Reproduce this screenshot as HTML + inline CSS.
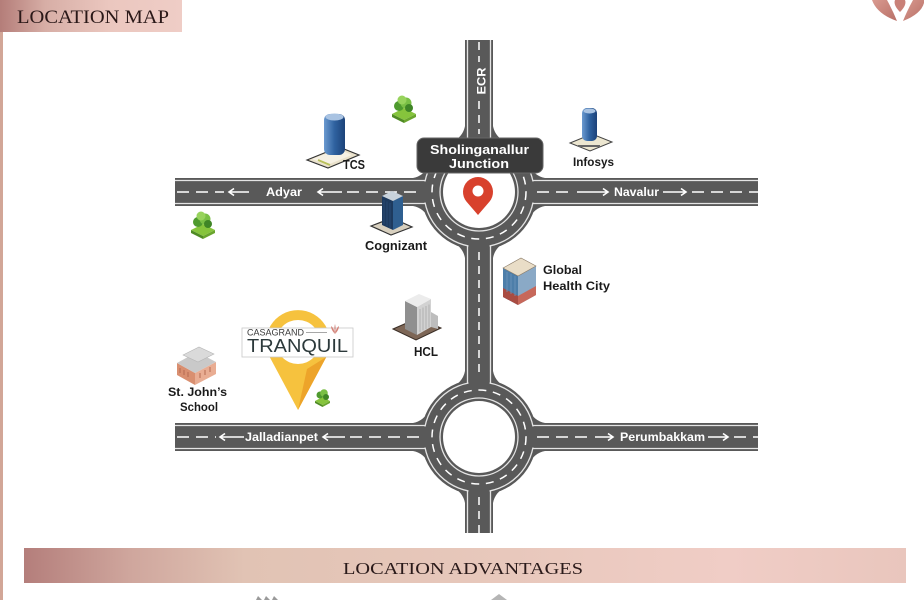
<!DOCTYPE html>
<html><head><meta charset="utf-8"><style>
html,body{margin:0;padding:0;background:#fff;}
svg{display:block;}
text{font-family:"Liberation Sans",sans-serif;}
</style></head><body>
<svg width="924" height="600" viewBox="0 0 924 600" xmlns="http://www.w3.org/2000/svg">
<defs>
<linearGradient id="hdr" x1="0" x2="1" y1="0" y2="0">
<stop offset="0" stop-color="#b47d79"/><stop offset="0.25" stop-color="#d7aea6"/><stop offset="0.6" stop-color="#ebc7bf"/><stop offset="1" stop-color="#efcdc6"/>
</linearGradient>
<linearGradient id="ban" x1="0" x2="1" y1="0" y2="0">
<stop offset="0" stop-color="#b47e7b"/><stop offset="0.12" stop-color="#cfa69d"/><stop offset="0.25" stop-color="#e1c3b4"/><stop offset="0.55" stop-color="#e8c8bc"/><stop offset="0.8" stop-color="#f0cdc6"/><stop offset="1" stop-color="#e9c6bd"/>
</linearGradient>
<linearGradient id="blue" x1="0" x2="1" y1="0" y2="0">
<stop offset="0" stop-color="#6b9ad0"/><stop offset="0.5" stop-color="#2f62a0"/><stop offset="1" stop-color="#1c4279"/>
</linearGradient>
<linearGradient id="logo" x1="0" x2="1" y1="0" y2="1">
<stop offset="0" stop-color="#d99a90"/><stop offset="1" stop-color="#b86f66"/>
</linearGradient>
</defs>

<!-- left strip -->
<rect x="0" y="0" width="3" height="600" fill="#d2a697"/>
<!-- header -->
<rect x="0" y="0" width="182" height="32" fill="url(#hdr)"/>
<text x="17" y="23" font-family="Liberation Serif, serif" font-size="19" fill="#2a1818" textLength="152" lengthAdjust="spacingAndGlyphs" style="font-family:'Liberation Serif',serif">LOCATION MAP</text>

<!-- top-right logo -->
<path d="M897 21 Q877 14 872 0 L887 0 Q893 11 897 21 Z" fill="url(#logo)"/>
<path d="M903 21 Q921 14 924 3 L924 0 L913 0 Q907 11 903 21 Z" fill="url(#logo)"/>
<path d="M900 12 Q893 5 895 0 L905 0 Q907 5 900 12 Z" fill="#c98178"/>

<!-- ROADS -->
<g fill="#595959">
<rect x="465" y="40" width="28" height="493"/>
<rect x="175" y="178" width="583" height="28"/>
<rect x="175" y="423" width="583" height="28"/>
<circle cx="479" cy="192" r="58"/>
<circle cx="479" cy="437" r="58"/>
<!-- fillets -->
<path d="M413 178 L430 178 L430 164 Q424 176 413 178 Z"/>
<path d="M413 206 L430 206 L430 220 Q424 208 413 206 Z"/>
<path d="M545 178 L528 178 L528 164 Q534 176 545 178 Z"/>
<path d="M545 206 L528 206 L528 220 Q534 208 545 206 Z"/>
<path d="M465 126 L465 143 L451 143 Q463 137 465 126 Z"/>
<path d="M493 126 L493 143 L507 143 Q495 137 493 126 Z"/>
<path d="M465 258 L465 241 L451 241 Q463 247 465 258 Z"/>
<path d="M493 258 L493 241 L507 241 Q495 247 493 258 Z"/>
<path d="M413 423 L430 423 L430 409 Q424 421 413 423 Z"/>
<path d="M413 451 L430 451 L430 465 Q424 453 413 451 Z"/>
<path d="M545 423 L528 423 L528 409 Q534 421 545 423 Z"/>
<path d="M545 451 L528 451 L528 465 Q534 453 545 451 Z"/>
<path d="M465 371 L465 388 L451 388 Q463 382 465 371 Z"/>
<path d="M493 371 L493 388 L507 388 Q495 382 493 371 Z"/>
<path d="M465 503 L465 486 L451 486 Q463 492 465 503 Z"/>
<path d="M493 503 L493 486 L507 486 Q495 492 493 503 Z"/>
</g>

<g fill="none" stroke="#e4e4e4" stroke-width="1.3">
<!-- ring outer lines -->
<circle cx="479" cy="192" r="55"/>
<circle cx="479" cy="437" r="55"/>
<circle cx="479" cy="192" r="39"/>
<circle cx="479" cy="437" r="39"/>
</g>
<!-- break outer ring lines at entries -->
<g fill="#595959">
<rect x="420" y="181.5" width="10" height="21"/>
<rect x="528" y="181.5" width="10" height="21"/>
<rect x="468.5" y="133" width="21" height="10"/>
<rect x="468.5" y="241" width="21" height="10"/>
<rect x="420" y="426.5" width="10" height="21"/>
<rect x="528" y="426.5" width="10" height="21"/>
<rect x="468.5" y="378" width="21" height="10"/>
<rect x="468.5" y="486" width="21" height="10"/>
</g>
<!-- road edge lines -->
<g fill="none" stroke="#e4e4e4" stroke-width="1.3">
<path d="M175 180.5 H425.2 M175 203.5 H425.2 M532.8 180.5 H758 M532.8 203.5 H758"/>
<path d="M175 425.5 H425.2 M175 448.5 H425.2 M532.8 425.5 H758 M532.8 448.5 H758"/>
<path d="M467.5 40 V138.2 M490.5 40 V138.2 M467.5 245.8 V383.2 M490.5 245.8 V383.2 M467.5 490.8 V533 M490.5 490.8 V533"/>
</g>
<!-- inner white circles -->
<circle cx="479" cy="192" r="36" fill="#fff"/>
<circle cx="479" cy="437" r="36" fill="#fff"/>
<!-- ring dashes -->
<g fill="none" stroke="#fff" stroke-width="1.5" stroke-dasharray="8 6.7">
<circle cx="479" cy="192" r="47"/>
<circle cx="479" cy="437" r="47"/>
</g>
<!-- center dashes -->
<g fill="none" stroke="#fff" stroke-width="1.5" stroke-dasharray="12 7">
<path d="M177 192 H224"/>
<path d="M347 192 H421"/>
<path d="M537 192 H574"/>
<path d="M692 192 H758"/>
<path d="M177 437 H216"/>
<path d="M350 437 H421"/>
<path d="M537 437 H592"/>
<path d="M734 437 H758"/>
</g>
<g fill="none" stroke="#fff" stroke-width="1.5" stroke-dasharray="8 6">
<path d="M479 42 V62"/>
<path d="M479 101 V134"/>
<path d="M479 252 V378"/>
<path d="M479 497 V533"/>
</g>
<!-- arrows -->
<g fill="none" stroke="#fff" stroke-width="1.6" stroke-linejoin="miter">
<path d="M229 192 H249 M234 188.5 L229 192 L234 195.5"/>
<path d="M318 192 H342 M323 188.5 L318 192 L323 195.5"/>
<path d="M577 192 H608 M603 188.5 L608 192 L603 195.5"/>
<path d="M663 192 H686 M681 188.5 L686 192 L681 195.5"/>
<path d="M220 437 H244 M225 433.5 L220 437 L225 440.5"/>
<path d="M323 437 H345 M328 433.5 L323 437 L328 440.5"/>
<path d="M595 437 H613 M608 433.5 L613 437 L608 440.5"/>
<path d="M708 437 H728 M723 433.5 L728 437 L723 440.5"/>
</g>
<!-- road labels -->
<g font-weight="bold" font-size="12" fill="#fff">
<text x="266" y="196" textLength="36" lengthAdjust="spacingAndGlyphs">Adyar</text>
<text x="614" y="196" textLength="45" lengthAdjust="spacingAndGlyphs">Navalur</text>
<text x="245" y="441" textLength="73" lengthAdjust="spacingAndGlyphs">Jalladianpet</text>
<text x="620" y="441" textLength="85" lengthAdjust="spacingAndGlyphs">Perumbakkam</text>
<text transform="translate(485.5 81) rotate(-90)" text-anchor="middle" textLength="27" lengthAdjust="spacingAndGlyphs">ECR</text>
</g>

<!-- Junction label -->
<rect x="417" y="138" width="126" height="35" rx="7" fill="#3a3a3a" stroke="#666" stroke-width="1"/>
<g font-weight="bold" font-size="13" fill="#fff">
<text x="430" y="154" textLength="99" lengthAdjust="spacingAndGlyphs">Sholinganallur</text>
<text x="449" y="168" textLength="60" lengthAdjust="spacingAndGlyphs">Junction</text>
</g>
<!-- red pin -->
<path d="M466.6 201.8 A15 15 0 1 1 489.4 201.8 L478 215 Z" fill="#d8412d"/>
<circle cx="478" cy="191" r="5.5" fill="#fff"/>

<!-- TREES -->
<g>
<path d="M392 114 L404 108 L416 114 L404 120 Z" fill="#86c43c"/>
<path d="M392 114 L404 120 L404 123 L392 117 Z" fill="#4f8a24"/>
<path d="M404 120 L416 114 L416 117 L404 123 Z" fill="#6aa52e"/>
<circle cx="399" cy="106" r="5" fill="#4e9a2e"/><circle cx="406" cy="103" r="5.5" fill="#79bf45"/><circle cx="402" cy="100" r="4.5" fill="#97d35c"/><circle cx="409" cy="108" r="4" fill="#3f8526"/>
</g>
<g>
<path d="M191 230 L203 224 L215 230 L203 236 Z" fill="#86c43c"/>
<path d="M191 230 L203 236 L203 239 L191 233 Z" fill="#4f8a24"/>
<path d="M203 236 L215 230 L215 233 L203 239 Z" fill="#6aa52e"/>
<circle cx="198" cy="222" r="5" fill="#4e9a2e"/><circle cx="205" cy="219" r="5.5" fill="#79bf45"/><circle cx="201" cy="216" r="4.5" fill="#97d35c"/><circle cx="208" cy="224" r="4" fill="#3f8526"/>
</g>
<g>
<path d="M315 401 L322.5 397 L330 401 L322.5 405 Z" fill="#86c43c"/>
<path d="M315 401 L322.5 405 L322.5 407 L315 403 Z" fill="#4f8a24"/>
<path d="M322.5 405 L330 401 L330 403 L322.5 407 Z" fill="#6aa52e"/>
<circle cx="320" cy="395" r="3.5" fill="#4e9a2e"/><circle cx="324" cy="393" r="3.8" fill="#79bf45"/><circle cx="326" cy="397" r="3" fill="#3f8526"/>
</g>

<!-- TCS -->
<g>
<path d="M307 160 L339 147 L359 155 L328 168 Z" fill="#e9e1cb" stroke="#333" stroke-width="1.2"/>
<path d="M312 159 L338 149 L352 155 L327 165 Z" fill="#f6f1e4"/>
<rect x="324" y="114" width="21" height="41" rx="6" fill="url(#blue)"/>
<ellipse cx="334.5" cy="117" rx="9" ry="3.5" fill="#a9c3e2"/>
<path d="M318 160 L330 165" stroke="#b9c05a" stroke-width="2"/>
</g>
<text x="343" y="169" font-weight="bold" font-size="12.5" fill="#1a1a1a" textLength="22" lengthAdjust="spacingAndGlyphs">TCS</text>

<!-- Infosys -->
<g>
<path d="M570 143 L592 134 L612 142 L590 151 Z" fill="#ece6d0" stroke="#444" stroke-width="1"/>
<path d="M578 146 L600 146" stroke="#666" stroke-width="2"/>
<rect x="582" y="108" width="15" height="33" rx="5" fill="url(#blue)"/>
<ellipse cx="589.5" cy="111" rx="6" ry="2.5" fill="#a9c3e2"/>
</g>
<text x="573" y="166" font-weight="bold" font-size="12" fill="#1a1a1a" textLength="41" lengthAdjust="spacingAndGlyphs">Infosys</text>

<!-- Cognizant -->
<g>
<path d="M371 226 L392 218 L412 227 L391 235 Z" fill="#d8d0bf" stroke="#333" stroke-width="1.2"/>
<path d="M382 196 L393 201 L393 230 L382 225 Z" fill="#1d3a5e"/>
<path d="M393 201 L403 196 L403 225 L393 230 Z" fill="#2f5f90"/>
<path d="M382 196 L392 191 L403 196 L393 201 Z" fill="#c9d3dc"/>
<path d="M384 200 V224 M387 201.5 V226 M390 203 V228" stroke="#2b4d78" stroke-width="0.8"/>
</g>
<text x="365" y="250" font-weight="bold" font-size="12.5" fill="#1a1a1a" textLength="62" lengthAdjust="spacingAndGlyphs">Cognizant</text>

<!-- Global Health City -->
<g>
<path d="M503 268 L518 276 L518 305 L503 297 Z" fill="#4d7ea9"/>
<path d="M518 276 L536 266 L536 295 L518 305 Z" fill="#8aa9c6"/>
<path d="M503 288 L518 296 L518 305 L503 297 Z" fill="#a94c42"/>
<path d="M518 296 L536 286 L536 295 L518 305 Z" fill="#c7685a"/>
<path d="M503 268 L521 258 L536 266 L518 276 Z" fill="#e9ddc7" stroke="#8a7a66" stroke-width="0.6"/>
<path d="M507 272 V292 M511 274 V294 M515 276 V296" stroke="#6d95bb" stroke-width="0.8"/>
</g>
<g font-weight="bold" font-size="12" fill="#1a1a1a">
<text x="543" y="274" textLength="39" lengthAdjust="spacingAndGlyphs">Global</text>
<text x="543" y="290" textLength="67" lengthAdjust="spacingAndGlyphs">Health City</text>
</g>

<!-- HCL -->
<g>
<path d="M393 329 L418 318 L441 328 L416 340 Z" fill="#7d6656" stroke="#3a2e26" stroke-width="1"/>
<path d="M405 301 L417 307 L417 335 L405 329 Z" fill="#8f8f8f"/>
<path d="M417 307 L431 299 L431 327 L417 335 Z" fill="#d2d2d2"/>
<path d="M405 301 L419 294 L431 299 L417 307 Z" fill="#ececec"/>
<path d="M431 312 L438 316 L438 329 L431 327 Z" fill="#bdbdbd"/>
<path d="M420 309 V332 M423 307.5 V330.5 M426 306 V329 M429 304.5 V327.5" stroke="#a8a8a8" stroke-width="0.8"/>
</g>
<text x="414" y="356" font-weight="bold" font-size="12.5" fill="#1a1a1a" textLength="24" lengthAdjust="spacingAndGlyphs">HCL</text>

<!-- St John's School -->
<g>
<path d="M177 363 L195 373 L195 385 L177 375 Z" fill="#d98f70"/>
<path d="M195 373 L216 362 L216 374 L195 385 Z" fill="#e9ad93"/>
<path d="M177 363 L197 352 L216 362 L195 373 Z" fill="#c9c9c9"/>
<path d="M183 355 L199 347 L214 354 L198 362 Z" fill="#dadada" stroke="#b5b5b5" stroke-width="0.6"/>
<path d="M180 368 V373 M184 370 V375 M188 372 V377 M200 378 V373 M205 375 V370 M210 372 V367" stroke="#b56a50" stroke-width="1"/>
</g>
<g font-weight="bold" font-size="12" fill="#1a1a1a">
<text x="168" y="396" textLength="59" lengthAdjust="spacingAndGlyphs">St. John’s</text>
<text x="180" y="411" textLength="38" lengthAdjust="spacingAndGlyphs">School</text>
</g>

<!-- CASAGRAND TRANQUIL pin -->
<g>
<path d="M269.7 357 A32 32 0 1 1 326.3 357 L298 410 Z" fill="#f6c23e"/>
<path d="M326.3 357 L298 410 L307 369 Z" fill="#eda42a"/>
<circle cx="298" cy="342" r="22" fill="#fff"/>
<rect x="242" y="328" width="111" height="29" fill="#fff" stroke="#c8c8c8" stroke-width="0.8"/>
<text x="247" y="335.5" font-size="9" fill="#3a3a3a" textLength="57" lengthAdjust="spacingAndGlyphs">CASAGRAND</text>
<path d="M306 332.5 H327" stroke="#8a8a8a" stroke-width="0.8"/>
<path d="M335 334 Q331 330 331 326 Q334 328 335 334 Q336 328 339 326 Q339 330 335 334 Z" fill="#d5857b"/>
<path d="M335 334 Q334 328 335 324 Q336 328 335 334 Z" fill="#c46a60"/>
<text x="247" y="352" font-size="18" fill="#2c393b" textLength="101" lengthAdjust="spacingAndGlyphs">TRANQUIL</text>
</g>

<!-- bottom banner -->
<rect x="24" y="548" width="882" height="35" fill="url(#ban)"/>
<text x="343" y="574" font-size="17" fill="#2a1a1a" textLength="240" lengthAdjust="spacingAndGlyphs" style="font-family:'Liberation Serif',serif">LOCATION ADVANTAGES</text>

<!-- partial icons at bottom -->
<path d="M256 600 L258 596 L262 600 Z M264 600 L266 596 L270 600 Z M272 600 L274 596 L278 600 Z" fill="#9a9a9a"/>
<path d="M491 600 L499 594 L507 600 Z" fill="#b5b5b5"/>
</svg>
</body></html>
